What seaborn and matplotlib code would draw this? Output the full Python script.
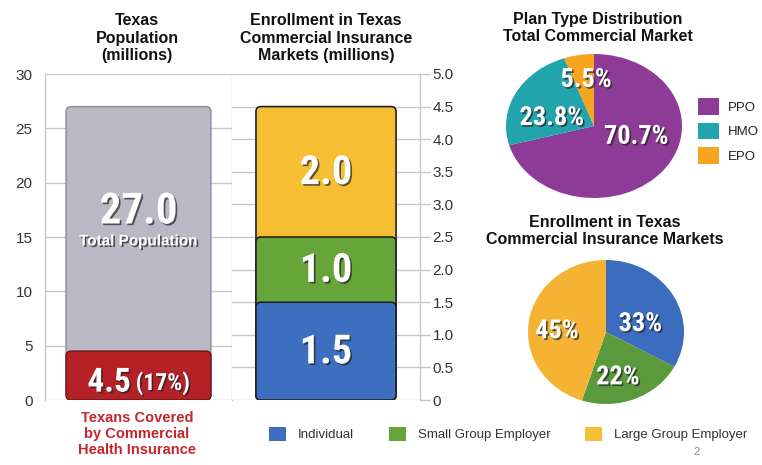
import matplotlib
matplotlib.use("Agg")
import matplotlib.pyplot as plt
import matplotlib.patheffects as pe
from matplotlib.patches import FancyBboxPatch, Rectangle, Patch
from matplotlib import font_manager
import seaborn as sns
import numpy as np

# ---------------- data ----------------
pop_total = 27.0
pop_covered = 4.5
pop_covered_pct = "(17%)"

market_names = ["Individual", "Small Group Employer", "Large Group Employer"]
market_values = [1.5, 1.0, 2.0]
market_colors = ["#3c6fc0", "#67a53b", "#f6bf33"]

plan_names = ["PPO", "HMO", "EPO"]
plan_pcts = [70.7, 23.8, 5.5]
plan_colors = ["#8e3b97", "#22a4ad", "#f5a51e"]

market_pcts = [33, 22, 45]
market_pie_colors = ["#3b6cbd", "#5b9a3c", "#f5b334"]

left_ticks = [0, 5, 10, 15, 20, 25, 30]
right_ticks = [0, 0.5, 1.0, 1.5, 2.0, 2.5, 3.0, 3.5, 4.0, 4.5, 5.0]
right_tick_labels = ["0", "0.5", "1.0", "1.5", "2.0", "2.5", "3.0", "3.5", "4.0", "4.5", "5.0"]

# ---------------- style ----------------
sns.set_style("white")
plt.rcParams["font.family"] = ["Liberation Sans", "DejaVu Sans"]

avail = {f.name for f in font_manager.fontManager.ttflist}
narrow = "DejaVu Sans"
for cand in ["Liberation Sans Narrow", "DejaVu Sans Condensed", "Roboto Condensed", "Open Sans Condensed"]:
    if cand in avail:
        narrow = cand
        break

W, H = 762, 465
fig = plt.figure(figsize=(W / 100, H / 100), dpi=100)


def fx(px):
    return px / W


def fy(py):
    return 1 - py / H


def ax_rect(x0, y0, x1, y1):
    return [fx(x0), fy(y1), fx(x1) - fx(x0), fy(y0) - fy(y1)]


shadow = [pe.SimplePatchShadow(offset=(1.2, -1.2), shadow_rgbFace="#222222", alpha=0.7), pe.Normal()]
grid_c = "#c9c9c9"
tick_c = "#333333"


def round_bars(ax, rad_px=5):
    bb = ax.get_window_extent()
    x0, x1 = ax.get_xlim()
    y0, y1 = ax.get_ylim()
    xpp = (x1 - x0) / bb.width
    ypp = (y1 - y0) / bb.height
    for p in list(ax.patches):
        if isinstance(p, Rectangle):
            x, y, w, h = p.get_x(), p.get_y(), p.get_width(), p.get_height()
            newp = FancyBboxPatch((x, y), w, h,
                                  boxstyle=f"round,pad=0,rounding_size={rad_px * xpp}",
                                  mutation_aspect=ypp / xpp,
                                  facecolor=p.get_facecolor(), edgecolor=p.get_edgecolor(),
                                  linewidth=p.get_linewidth(), zorder=p.get_zorder())
            p.remove()
            ax.add_patch(newp)


def style_bar_axis(ax):
    ax.set_xlim(-0.5, 0.5)
    ax.set_xlabel("")
    ax.set_ylabel("")
    ax.set_xticks([])
    ax.set_axisbelow(True)
    ax.yaxis.grid(True, color=grid_c, linewidth=1.0)
    for s in ["top", "bottom"]:
        ax.spines[s].set_visible(False)
    for s in ["left", "right"]:
        ax.spines[s].set_color(grid_c)
        ax.spines[s].set_linewidth(1.0)
    ax.tick_params(axis="y", length=7, width=1.0, color=grid_c, labelsize=11,
                   labelcolor=tick_c, pad=2)


# ---------------- left: Texas population ----------------
ax1 = fig.add_axes(ax_rect(45, 74, 232, 400))
sns.barplot(x=["Texas"], y=[pop_total], color="#b9b8c4", saturation=1, width=0.775,
            edgecolor="#8d8c98", linewidth=1.0, ax=ax1)
sns.barplot(x=["Texas"], y=[pop_covered], color="#b42127", saturation=1, width=0.775,
            edgecolor="#6e1216", linewidth=1.0, ax=ax1)
style_bar_axis(ax1)
ax1.set_ylim(0, 30)
ax1.set_yticks(left_ticks)
ax1.set_yticklabels([str(t) for t in left_ticks])
round_bars(ax1, 5)

ax1.text(0, 17.3, f"{pop_total:.1f}", ha="center", va="center", color="white",
         fontsize=31, fontweight="bold", family=[narrow, "DejaVu Sans"], path_effects=shadow)
ax1.text(0, 14.6, "Total Population", ha="center", va="center", color="white",
         fontsize=11, fontweight="bold", path_effects=shadow)
ax1.text(-0.04, 1.6, f"{pop_covered:.1f}", ha="right", va="center", color="white",
         fontsize=24, fontweight="bold", family=[narrow, "DejaVu Sans"], path_effects=shadow)
ax1.text(-0.015, 1.55, pop_covered_pct, ha="left", va="center", color="white",
         fontsize=17, fontweight="bold", family=[narrow, "DejaVu Sans"], path_effects=shadow)

# ---------------- middle: enrollment stacked ----------------
ax2 = fig.add_axes(ax_rect(232, 74, 420, 400))
cum = np.cumsum(market_values)
for i in reversed(range(len(market_values))):
    sns.barplot(x=["Markets"], y=[cum[i]], color=market_colors[i], saturation=1, width=0.745,
                edgecolor="#222222", linewidth=1.2, ax=ax2)
style_bar_axis(ax2)
ax2.spines["left"].set_visible(False)
ax2.set_ylim(0, 5)
ax2.yaxis.tick_right()
ax2.set_yticks(right_ticks)
ax2.set_yticklabels(right_tick_labels)
ax2.tick_params(axis="y", length=7, width=1.0, color=grid_c, labelsize=11,
                labelcolor=tick_c, pad=2, right=True, left=False)
round_bars(ax2, 5)

bottoms = np.concatenate([[0], cum[:-1]])
for v, b in zip(market_values, bottoms):
    ax2.text(0, b + v / 2 - 0.02, f"{v:.1f}", ha="center", va="center", color="white",
             fontsize=29, fontweight="bold", family=[narrow, "DejaVu Sans"], path_effects=shadow)

# ---------------- titles ----------------
title_kw = dict(ha="center", va="center", fontsize=11.5, fontweight="bold", color="#111111",
                linespacing=1.2)
fig.text(fx(137), fy(38), "Texas\nPopulation\n(millions)", **title_kw)
fig.text(fx(326), fy(38), "Enrollment in Texas\nCommercial Insurance\nMarkets (millions)", **title_kw)
fig.text(fx(598), fy(28), "Plan Type Distribution\nTotal Commercial Market", **title_kw)
fig.text(fx(605), fy(231), "Enrollment in Texas\nCommercial Insurance Markets", **title_kw)

fig.text(fx(137), fy(434), "Texans Covered\nby Commercial\nHealth Insurance", ha="center",
         va="center", fontsize=10.5, fontweight="bold", color="#c4262e", linespacing=1.2)

# ---------------- pie 1: plan type ----------------
axp1 = fig.add_axes(ax_rect(506, 54, 682, 198))
axp1.pie(plan_pcts, colors=plan_colors, startangle=90, counterclock=False,
         wedgeprops=dict(linewidth=0))
axp1.set_aspect("auto")
axp1.set_xlim(-1.0, 1.0)
axp1.set_ylim(-1.0, 1.0)
axp1.axis("off")
plan_label_pos = [(0.48, -0.15), (-0.48, 0.11), (-0.09, 0.64)]
for pct, (x, y) in zip(plan_pcts, plan_label_pos):
    axp1.text(x, y, f"{pct:.1f}%", ha="center", va="center", color="white", fontsize=19,
              fontweight="bold", family=[narrow, "DejaVu Sans"], path_effects=shadow)

leg1 = fig.legend(handles=[Patch(facecolor=c, edgecolor="none") for c in plan_colors],
                  labels=plan_names, loc="center left", bbox_to_anchor=(fx(686), fy(131)),
                  frameon=False, fontsize=9.5, handlelength=1.6, handleheight=1.6,
                  labelspacing=0.55, handletextpad=0.7, labelcolor="#222222")

# ---------------- pie 2: market share ----------------
axp2 = fig.add_axes(ax_rect(528, 260, 684, 404))
axp2.pie(market_pcts, colors=market_pie_colors, startangle=90, counterclock=False,
         wedgeprops=dict(linewidth=0))
axp2.set_aspect("auto")
axp2.set_xlim(-1.0, 1.0)
axp2.set_ylim(-1.0, 1.0)
axp2.axis("off")
market_label_pos = [(0.44, 0.11), (0.15, -0.63), (-0.63, 0.01)]
for pct, (x, y) in zip(market_pcts, market_label_pos):
    axp2.text(x, y, f"{pct}%", ha="center", va="center", color="white", fontsize=19,
              fontweight="bold", family=[narrow, "DejaVu Sans"], path_effects=shadow)

# ---------------- bottom legend ----------------
fig.legend(handles=[Patch(facecolor=c, edgecolor="none") for c in market_colors],
           labels=market_names, loc="center", bbox_to_anchor=(fx(508), fy(434)), ncol=3,
           frameon=False, fontsize=9.5, handlelength=1.3, handleheight=1.3,
           handletextpad=0.9, columnspacing=2.6, labelcolor="#333333")

fig.text(fx(697), fy(452), "2", ha="center", va="center", fontsize=8, color="#888888")

fig.savefig("out.png", dpi=100)
